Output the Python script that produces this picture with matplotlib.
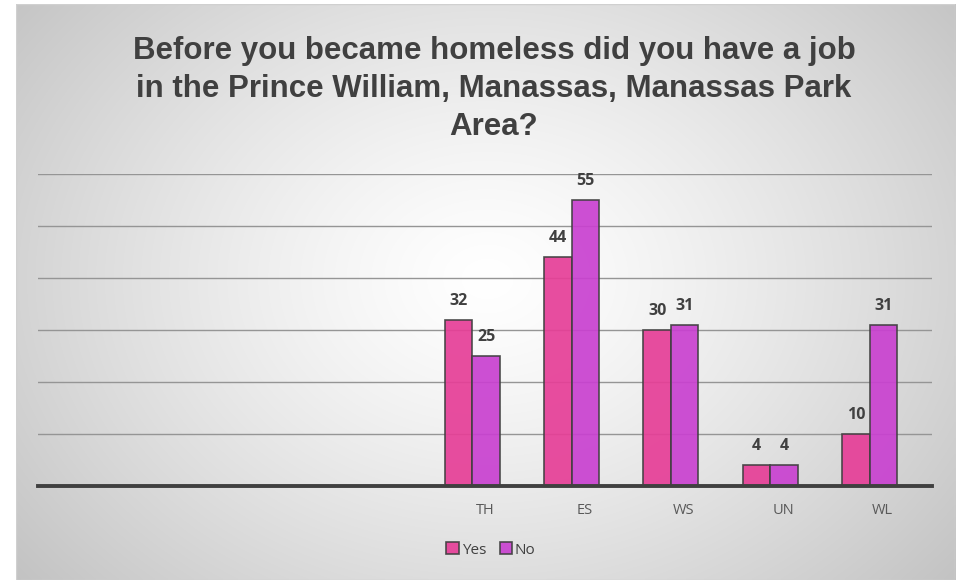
import matplotlib
matplotlib.use("Agg")
import matplotlib.pyplot as plt
import numpy as np
from matplotlib.patches import Rectangle

categories = ["", "", "", "", "TH", "ES", "WS", "UN", "WL"]
yes_vals = [np.nan, np.nan, np.nan, np.nan, 32, 44, 30, 4, 10]
no_vals = [np.nan, np.nan, np.nan, np.nan, 25, 55, 31, 4, 31]
title = ("Before you became homeless did you have a job\n"
         "in the Prince William, Manassas, Manassas Park\nArea?")

W, H = 963, 580
fig = plt.figure(figsize=(W / 100, H / 100), dpi=100)
fig.patch.set_facecolor("white")

# background panel with radial gradient
x0, x1, y0, y1 = 16, 955, 4, 580
bg = fig.add_axes([x0 / W, 1 - y1 / H, (x1 - x0) / W, (y1 - y0) / H])
yy, xx = np.mgrid[0:200, 0:300]
cx, cy = 150, 95
d = np.sqrt(((xx - cx) / 190.0) ** 2 + ((yy - cy) / 160.0) ** 2)
val = 1.0 - 0.23 * np.clip(d, 0, 1.2) ** 1.3
img = np.dstack([val, val, val])
bg.imshow(np.clip(img, 0, 1), aspect="auto", extent=[0, 1, 0, 1], interpolation="bilinear")
bg.set_xlim(0, 1); bg.set_ylim(0, 1)
bg.axis("off")
bg.add_patch(Rectangle((0, 0), 1, 1, transform=bg.transAxes, fill=False,
                       edgecolor="#d0d0d0", lw=1))

# main axes
ax_l, ax_r, ax_t, ax_b = 38, 932, 174, 486
ax = fig.add_axes([ax_l / W, 1 - ax_b / H, (ax_r - ax_l) / W, (ax_b - ax_t) / H])
ax.patch.set_alpha(0)
n = len(categories)
x = np.arange(n)
bw = 0.277
shift = -0.128
yes_color = "#E63E97"
no_color = "#C941D0"
lab_font = ["Open Sans", "DejaVu Sans"]
b1 = ax.bar(x + shift - bw / 2, yes_vals, bw, color=yes_color, alpha=0.92,
            edgecolor="#404040", linewidth=1.2, label="Yes", zorder=3)
b2 = ax.bar(x + shift + bw / 2, no_vals, bw, color=no_color, alpha=0.92,
            edgecolor="#404040", linewidth=1.2, label="No", zorder=3)
for xi, v in zip(x, yes_vals):
    if not np.isnan(v):
        ax.annotate(f"{int(v)}", (xi + shift - bw / 2, v), xytext=(0, 13.5), textcoords="offset points",
                    ha="center", va="center", fontsize=11.5, fontweight="bold",
                    color="#404040", family=lab_font)
for xi, v in zip(x, no_vals):
    if not np.isnan(v):
        ax.annotate(f"{int(v)}", (xi + shift + bw / 2, v), xytext=(0, 13.5), textcoords="offset points",
                    ha="center", va="center", fontsize=11.5, fontweight="bold",
                    color="#404040", family=lab_font)

ax.set_xlim(-0.5, n - 0.5)
ax.set_ylim(0, 60)
ax.set_yticks(np.arange(10, 61, 10))
ax.yaxis.grid(True, color="#959595", linewidth=1.0, zorder=0)
ax.set_axisbelow(True)
ax.tick_params(axis="y", left=False, labelleft=False)
ax.set_xticks(x)
ax.set_xticklabels(categories, fontsize=10.5, color="#595959", family=lab_font)
ax.tick_params(axis="x", length=0, pad=12)
for s in ["top", "right", "left"]:
    ax.spines[s].set_visible(False)
ax.spines["bottom"].set_color("#404040")
ax.spines["bottom"].set_linewidth(2.8)
ax.spines["bottom"].set_zorder(5)

leg = fig.legend(handles=[b1, b2], labels=["Yes", "No"], loc="center",
                 bbox_to_anchor=(491 / W, 1 - 550 / H), ncol=2, frameon=False,
                 handlelength=0.8, handleheight=0.8, handletextpad=0.2, columnspacing=0.9,
                 prop={"family": lab_font, "size": 11})
for t in leg.get_texts():
    t.set_color("#404040")

fig.text(494 / W, 1 - 89 / H, title, ha="center", va="center", fontsize=22.5,
         fontweight="bold", color="#404040", linespacing=1.33,
         family=["Liberation Sans Narrow", "Liberation Sans", "DejaVu Sans"])

fig.savefig("out.png", dpi=100, facecolor=fig.get_facecolor())
